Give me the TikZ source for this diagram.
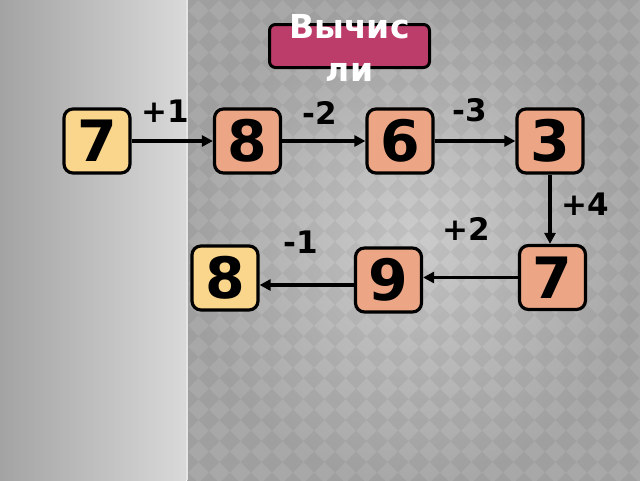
\documentclass[tikz,border=0pt]{standalone}
\usepackage{fontspec}
\setmainfont{DejaVu Sans}
\usetikzlibrary{arrows.meta,calc}

\definecolor{numbox}{RGB}{236,166,133}
\definecolor{startbox}{RGB}{250,214,140}
\definecolor{titlered}{RGB}{188,60,106}

\begin{document}
\begin{tikzpicture}[x=1pt,y=-1pt,
  numero/.style={draw=black,line width=3.2pt,rounded corners=9pt,fill=numbox,
    minimum width=66pt,minimum height=64pt,inner sep=0pt,
    font=\fontsize{57}{57}\selectfont\bfseries},
  inicio/.style={numero,fill=startbox},
  paso/.style={font=\fontsize{31}{31}\selectfont\bfseries},
  flecha/.style={line width=3.5pt,-{Triangle[length=11pt,width=11pt]}}]
\useasboundingbox (0,0) rectangle (640,480);

% fondo
\shade[left color=black!36, right color=black!15] (0,0) rectangle (186,480);
\shade[inner color=black!20, outer color=black!34] (187,0) rectangle (640,480);
\begin{scope}
\clip (188,0) rectangle (640,480);
\foreach \i in {0,...,22}{
  \foreach \j in {0,...,23}{
    \fill[black,opacity=.05] (188+\i*21-10.5,\j*21) -- ++(10.5,-10.5) -- ++(10.5,10.5) -- ++(-10.5,10.5) -- cycle;
  }
}
\end{scope}
\draw[white!90!black,line width=2pt] (186.5,0) -- (186.5,480);

% titulo
\node[draw=black,line width=3pt,rounded corners=6pt,fill=titlered,
  minimum width=160pt,minimum height=43pt] (titulo) at (349.5,46) {};
\node[white,font=\fontsize{33}{43}\selectfont\bfseries,align=center] (titulotxt) at (349.5,47.5) {Вычис\\ли};

% fila de arriba
\node[inicio] (seven) at (97,141) {7};
\node[numero] (eight) at (247.5,141) {8};
\node[numero] (six) at (400,141) {6};
\node[numero] (three) at (550,141) {3};

% fila de abajo
\node[numero] (sevenb) at (552.5,277.5) {7};
\node[numero] (nine) at (388.5,280) {9};
\node[inicio] (eightb) at (225,278) {8};

\draw[flecha] (seven.east) -- (eight.west);
\draw[flecha] (eight.east) -- (six.west);
\draw[flecha] (six.east) -- (three.west);
\draw[flecha] (three.south) -- (three.south |- sevenb.north);
\draw[flecha] (sevenb.west) -- (sevenb.west -| nine.east);
\draw[flecha] ([yshift=-5pt]nine.west) -- ([yshift=-5pt]nine.west -| eightb.east);

% pasos
\node[paso] (p1) at (165,111) {+1};
\node[paso] (p2) at (320,113) {-2};
\node[paso] (p3) at (470,110) {-3};
\node[paso] (p4) at (585,204) {+4};
\node[paso] (p5) at (466,229) {+2};
\node[paso] (p6) at (301,242) {-1};
\end{tikzpicture}
\end{document}
